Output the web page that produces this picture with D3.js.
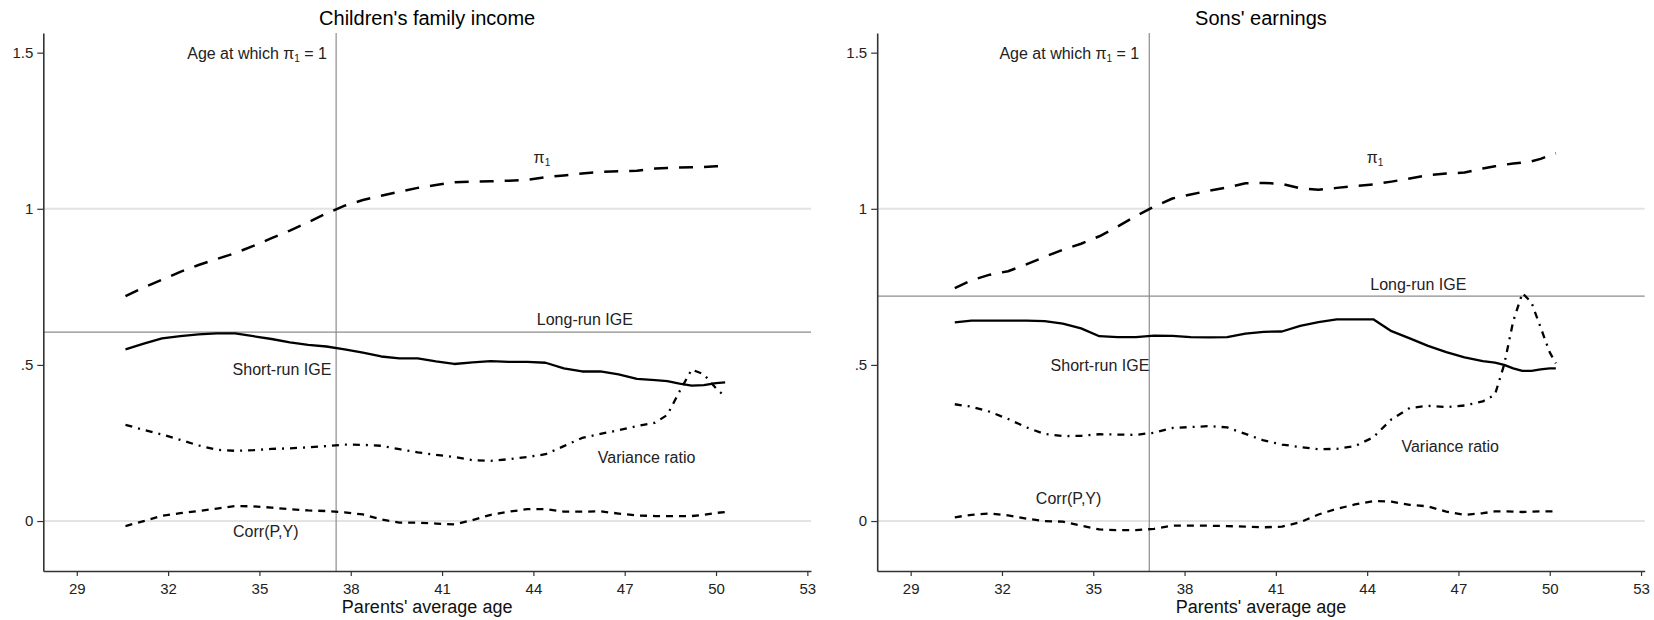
<!DOCTYPE html>
<html>
<head>
<meta charset="utf-8">
<script src="https://cdn.jsdelivr.net/npm/d3@7"></script>
<style>
  body { margin: 0; background: #fff; }
  text { font-family: "Liberation Sans", Arial, sans-serif; }
</style>
</head>
<body>
<svg id="chart" width="1654" height="620"></svg>
<script>
// ---- data ----
const panelTitles = ["Children's family income", "Sons' earnings"];
const xTicks = [29, 32, 35, 38, 41, 44, 47, 50, 53];
const yTicks = [0, 0.5, 1, 1.5];
const yTickLabels = ["0", ".5", "1", "1.5"];

const longRunIGE = [0.605, 0.72];
const agePiOne = [37.52, 36.84];

// children's family income
const agesFamily = [30.6, 31.2, 31.8, 32.4, 33.0, 33.6, 34.2, 34.8, 35.4, 36.0, 36.6, 37.2, 37.8, 38.4, 39.0, 39.6, 40.2, 40.8, 41.4, 42.0, 42.6, 43.2, 43.8, 44.4, 45.0, 45.6, 46.2, 46.8, 47.4, 48.0, 48.4, 48.8, 49.2, 49.6, 50.0, 50.3];
const piFamily = [0.72, 0.748, 0.773, 0.798, 0.82, 0.839, 0.858, 0.881, 0.906, 0.93, 0.957, 0.985, 1.01, 1.028, 1.042, 1.055, 1.067, 1.076, 1.085, 1.087, 1.088, 1.09, 1.093, 1.101, 1.107, 1.113, 1.118, 1.12, 1.122, 1.129, 1.131, 1.132, 1.133, 1.134, 1.136, 1.136];
const shortFamily = [0.55, 0.568, 0.585, 0.592, 0.598, 0.601, 0.601, 0.592, 0.583, 0.572, 0.564, 0.559, 0.55, 0.539, 0.527, 0.521, 0.521, 0.511, 0.503, 0.508, 0.512, 0.51, 0.51, 0.507, 0.489, 0.479, 0.479, 0.47, 0.455, 0.451, 0.448, 0.44, 0.434, 0.435, 0.442, 0.444];
const varFamily = [0.308, 0.292, 0.277, 0.26, 0.242, 0.228, 0.225, 0.227, 0.231, 0.233, 0.236, 0.24, 0.245, 0.244, 0.241, 0.23, 0.22, 0.212, 0.205, 0.195, 0.193, 0.198, 0.205, 0.214, 0.24, 0.266, 0.279, 0.291, 0.304, 0.315, 0.34, 0.415, 0.485, 0.47, 0.425, 0.398];
const corrFamily = [-0.016, 0.0, 0.017, 0.025, 0.032, 0.04, 0.048, 0.047, 0.043, 0.038, 0.034, 0.032, 0.028, 0.021, 0.005, -0.005, -0.005, -0.008, -0.011, 0.003, 0.02, 0.03, 0.038, 0.038, 0.03, 0.03, 0.031, 0.024, 0.018, 0.016, 0.016, 0.016, 0.016, 0.02, 0.026, 0.029];

// sons' earnings
const agesSons = [30.45, 31.0, 31.6, 32.2, 32.8, 33.4, 34.0, 34.6, 35.2, 35.8, 36.4, 37.0, 37.6, 38.2, 38.8, 39.4, 40.0, 40.6, 41.2, 41.8, 42.4, 43.0, 43.6, 44.2, 44.8, 45.4, 46.0, 46.6, 47.2, 47.8, 48.2, 48.5, 48.8, 49.1, 49.4, 49.7, 50.0, 50.2];
const piSons = [0.746, 0.771, 0.789, 0.8, 0.822, 0.846, 0.869, 0.888, 0.912, 0.943, 0.977, 1.007, 1.033, 1.046, 1.058, 1.068, 1.082, 1.083, 1.08, 1.066, 1.061, 1.067, 1.073, 1.078, 1.087, 1.097, 1.108, 1.113, 1.116, 1.129, 1.136, 1.141, 1.145, 1.148, 1.152, 1.16, 1.171, 1.178];
const shortSons = [0.636, 0.642, 0.642, 0.642, 0.642, 0.64, 0.632, 0.617, 0.592, 0.589, 0.589, 0.594, 0.593, 0.589, 0.588, 0.589, 0.6, 0.606, 0.607, 0.625, 0.637, 0.646, 0.646, 0.646, 0.608, 0.585, 0.561, 0.541, 0.524, 0.512, 0.507, 0.5, 0.489, 0.481, 0.481, 0.486, 0.489, 0.489];
const varSons = [0.374, 0.366, 0.35, 0.327, 0.3, 0.279, 0.272, 0.273, 0.278, 0.277, 0.276, 0.283, 0.298, 0.301, 0.304, 0.3, 0.279, 0.258, 0.245, 0.237, 0.23, 0.231, 0.24, 0.268, 0.326, 0.362, 0.369, 0.365, 0.37, 0.383, 0.405, 0.5, 0.64, 0.73, 0.7, 0.62, 0.54, 0.505];
const corrSons = [0.012, 0.02, 0.024, 0.018, 0.008, 0.0, -0.002, -0.015, -0.027, -0.029, -0.029, -0.025, -0.015, -0.015, -0.015, -0.016, -0.018, -0.02, -0.018, -0.004, 0.021, 0.039, 0.053, 0.064, 0.062, 0.052, 0.047, 0.03, 0.02, 0.025, 0.031, 0.031, 0.03, 0.029, 0.03, 0.031, 0.031, 0.031];

// line styles for each series
const seriesStyles = {
  pi:    { dash: "14,11", width: 2.5 },
  short: { dash: null, width: 2.3 },
  vr:    { dash: "7,6,2,6", width: 2.3 },
  corr:  { dash: "7,6", width: 2.3 }
};

const panels = [
  {
    title: panelTitles[0], left: 43.3, right: 811,
    ages: agesFamily,
    series: { pi: piFamily, short: shortFamily, vr: varFamily, corr: corrFamily },
    longRun: longRunIGE[0], vline: agePiOne[0],
    labels: { pi: [44.28, 1.147], longRun: [45.69, 0.628], short: [35.74, 0.468], vr: [47.72, 0.185], corr: [35.21, -0.051], age: [37.22, 1.481] }
  },
  {
    title: panelTitles[1], left: 877.2, right: 1644.7,
    ages: agesSons,
    series: { pi: piSons, short: shortSons, vr: varSons, corr: corrSons },
    longRun: longRunIGE[1], vline: agePiOne[1],
    labels: { pi: [44.26, 1.147], longRun: [45.68, 0.74], short: [35.22, 0.481], vr: [46.73, 0.222], corr: [34.19, 0.054], age: [36.51, 1.481] }
  }
];

const svg = d3.select("svg#chart");

const y = d3.scaleLinear().domain([-0.16, 1.563]).range([571, 33]);

panels.forEach(p => {
  const g = svg.append("g");
  const x = d3.scaleLinear().domain([27.9, 53.12]).range([p.left, p.right]);

  // light grid lines at 0 and 1
  g.selectAll("line.grid")
    .data([0, 1])
    .join("line")
      .attr("class", "grid")
      .attr("x1", x.range()[0]).attr("x2", x.range()[1])
      .attr("y1", d => y(d)).attr("y2", d => y(d))
      .attr("stroke", "#e3e3e3").attr("stroke-width", 2);

  // long-run IGE line
  g.append("line")
    .attr("x1", x.range()[0]).attr("x2", x.range()[1])
    .attr("y1", y(p.longRun)).attr("y2", y(p.longRun))
    .attr("stroke", "#8c8c8c").attr("stroke-width", 1.2);

  // age at which pi1 = 1
  g.append("line")
    .attr("x1", x(p.vline)).attr("x2", x(p.vline))
    .attr("y1", y.range()[0]).attr("y2", y.range()[1])
    .attr("stroke", "#8c8c8c").attr("stroke-width", 1.2);

  const line = d3.line()
    .x((d, i) => x(p.ages[i]))
    .y(d => y(d));

  Object.keys(seriesStyles).forEach(k => {
    const st = seriesStyles[k];
    g.append("path")
      .datum(p.series[k])
      .attr("d", line)
      .attr("fill", "none")
      .attr("stroke", "#000")
      .attr("stroke-width", st.width)
      .attr("stroke-linejoin", "round")
      .attr("stroke-dasharray", st.dash);
  });

  // axes
  const yAxis = d3.axisLeft(y)
    .tickValues(yTicks)
    .tickFormat((d, i) => yTickLabels[i])
    .tickSize(6).tickPadding(4).tickSizeOuter(0);
  const xAxis = d3.axisBottom(x)
    .tickValues(xTicks)
    .tickSize(5).tickPadding(7).tickSizeOuter(0);

  const ya = g.append("g")
    .attr("transform", `translate(${x.range()[0]},0)`)
    .call(yAxis);
  const xa = g.append("g")
    .attr("transform", `translate(0,${y.range()[0]})`)
    .call(xAxis);
  [ya, xa].forEach(a => {
    a.select(".domain").attr("stroke", "#333").attr("stroke-width", 1.6);
    a.selectAll(".tick line").attr("stroke", "#333").attr("stroke-width", 1.2);
    a.selectAll(".tick text")
      .attr("fill", "#222")
      .style("font-family", '"Liberation Sans", Arial, sans-serif')
      .style("font-size", "15px");
  });

  const mid = (x.range()[0] + x.range()[1]) / 2;

  // titles
  g.append("text")
    .attr("x", mid).attr("y", 24.5)
    .attr("text-anchor", "middle")
    .style("font-size", "20px")
    .attr("fill", "#000")
    .text(p.title);

  g.append("text")
    .attr("x", mid).attr("y", 613)
    .attr("text-anchor", "middle")
    .style("font-size", "18px")
    .attr("fill", "#111")
    .text("Parents' average age");

  // in-plot labels
  const lab = (pos, txt) => g.append("text")
    .attr("x", x(pos[0])).attr("y", y(pos[1]))
    .attr("text-anchor", "middle")
    .style("font-size", "16px")
    .attr("fill", "#222")
    .text(txt);

  lab(p.labels.longRun, "Long-run IGE");
  lab(p.labels.short, "Short-run IGE");
  lab(p.labels.vr, "Variance ratio");
  lab(p.labels.corr, "Corr(P,Y)");

  const piLab = g.append("text")
    .attr("x", x(p.labels.pi[0])).attr("y", y(p.labels.pi[1]))
    .attr("text-anchor", "middle")
    .style("font-size", "16px")
    .attr("fill", "#222");
  piLab.append("tspan").text("π");
  piLab.append("tspan").attr("dy", 3).style("font-size", "10px").text("1");

  const ageLab = g.append("text")
    .attr("x", x(p.labels.age[0])).attr("y", y(p.labels.age[1]))
    .attr("text-anchor", "end")
    .style("font-size", "16px")
    .attr("fill", "#222");
  ageLab.append("tspan").text("Age at which π");
  ageLab.append("tspan").attr("dy", 3).style("font-size", "10px").text("1");
  ageLab.append("tspan").attr("dy", -3).text(" = 1");
});
</script>
</body>
</html>
